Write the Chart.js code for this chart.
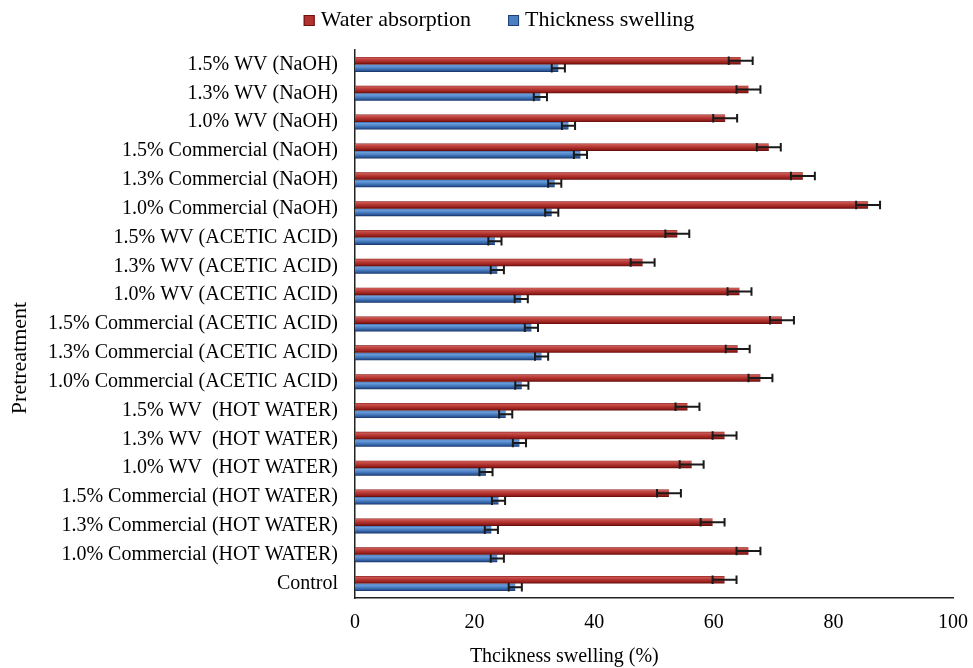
<!DOCTYPE html>
<html>
<head>
<meta charset="utf-8">
<title>Water absorption and thickness swelling by pretreatment</title>
<script src="https://cdn.jsdelivr.net/npm/chart.js@4.4.1/dist/chart.umd.min.js"></script>
<style>
  html, body { margin: 0; padding: 0; background: #ffffff; }
  #wrap { width: 973px; height: 668px; position: relative; }
</style>
</head>
<body>
<div id="wrap"><canvas id="chart" width="973" height="668"></canvas></div>
<script>
// Pretreatments, listed top to bottom
const categories = [
  "1.5% WV (NaOH)",
  "1.3% WV (NaOH)",
  "1.0% WV (NaOH)",
  "1.5% Commercial (NaOH)",
  "1.3% Commercial (NaOH)",
  "1.0% Commercial (NaOH)",
  "1.5% WV (ACETIC ACID)",
  "1.3% WV (ACETIC ACID)",
  "1.0% WV (ACETIC ACID)",
  "1.5% Commercial (ACETIC ACID)",
  "1.3% Commercial (ACETIC ACID)",
  "1.0% Commercial (ACETIC ACID)",
  "1.5% WV  (HOT WATER)",
  "1.3% WV  (HOT WATER)",
  "1.0% WV  (HOT WATER)",
  "1.5% Commercial (HOT WATER)",
  "1.3% Commercial (HOT WATER)",
  "1.0% Commercial (HOT WATER)",
  "Control"
];

// Water absorption (%)
const waterAbsorption = [
  64.5, 65.8, 61.9, 69.2, 74.9, 85.8,
  53.9, 48.1, 64.3, 71.4, 64.0, 67.8,
  55.6, 61.8, 56.3, 52.5, 59.8, 65.8,
  61.8
];

// Thickness swelling (%)
const thicknessSwelling = [
  34.0, 31.0, 35.7, 37.7, 33.4, 32.9,
  23.4, 23.8, 27.8, 29.5, 31.2, 27.9,
  25.2, 27.5, 21.9, 24.0, 22.8, 23.8,
  26.8
];

// Error bar half-widths
const waterAbsorptionErr = [
  2.0, 2.0, 2.0, 2.0, 2.0, 2.0,
  2.0, 2.0, 2.0, 2.0, 2.0, 2.0,
  2.0, 2.0, 2.0, 2.0, 2.0, 2.0,
  2.0
];
const thicknessSwellingErr = [
  1.1, 1.1, 1.1, 1.1, 1.1, 1.1,
  1.1, 1.1, 1.1, 1.1, 1.1, 1.1,
  1.1, 1.1, 1.1, 1.1, 1.1, 1.1,
  1.1
];

// Value axis ticks
const xTicks = [0, 20, 40, 60, 80, 100];

const seriesNames = ["Water absorption", "Thickness swelling"];
const xTitle = "Thcikness swelling (%)";
const yTitle = "Pretreatment";

const FONT = "'Liberation Serif', 'Times New Roman', serif";

// Vertical shading of each bar (top -> bottom)
const barShades = [
  [[0, "#7e1412"], [0.12, "#cc5a55"], [0.42, "#b93a36"], [0.78, "#951f1c"], [1, "#5e0a08"]],
  [[0, "#3a6bb0"], [0.18, "#6c9edc"], [0.5, "#4a7fc2"], [0.82, "#2b5596"], [1, "#143062"]]
];
const legendColors = [
  { fill: "#b0332f", stroke: "#6e1210" },
  { fill: "#4a7fc2", stroke: "#1f3f78" }
];
const errorSets = [waterAbsorptionErr, thicknessSwellingErr];

const shadedBars = {
  id: "shadedBars",
  beforeDatasetsDraw(chart) {
    const ctx = chart.ctx;
    chart.data.datasets.forEach((ds, di) => {
      const meta = chart.getDatasetMeta(di);
      meta.data.forEach(el => {
        const p = el.getProps(["y", "height"], true);
        const g = ctx.createLinearGradient(0, p.y - p.height / 2, 0, p.y + p.height / 2);
        barShades[di].forEach(([o, c]) => g.addColorStop(o, c));
        el.options = Object.assign({}, el.options, { backgroundColor: g });
      });
    });
  }
};

const errorBars = {
  id: "errorBars",
  afterDatasetsDraw(chart) {
    const ctx = chart.ctx;
    const xs = chart.scales.x;
    ctx.save();
    ctx.strokeStyle = "#1a1a1a";
    ctx.lineWidth = 2;
    chart.data.datasets.forEach((ds, di) => {
      const meta = chart.getDatasetMeta(di);
      meta.data.forEach((el, i) => {
        const v = ds.data[i];
        const e = errorSets[di][i];
        const p = el.getProps(["y", "height"], true);
        const x1 = xs.getPixelForValue(v - e);
        const x2 = xs.getPixelForValue(v + e);
        const h = p.height / 2 + 0.5;
        ctx.beginPath();
        ctx.moveTo(x1, p.y); ctx.lineTo(x2, p.y);
        ctx.moveTo(x1, p.y - h); ctx.lineTo(x1, p.y + h);
        ctx.moveTo(x2, p.y - h); ctx.lineTo(x2, p.y + h);
        ctx.stroke();
      });
    });
    ctx.restore();
  }
};

// Legend row and axis titles
const decorations = {
  id: "decorations",
  afterDraw(chart) {
    const ctx = chart.ctx;
    const xs = chart.scales.x;
    const ys = chart.scales.y;
    ctx.save();
    ctx.fillStyle = "#000";

    // legend
    ctx.font = "22px " + FONT;
    ctx.textBaseline = "middle";
    ctx.textAlign = "left";
    const box = 11, gapText = 6, gapItem = 37, ly = 20.5;
    const w = seriesNames.map(s => ctx.measureText(s).width);
    const total = box + gapText + w[0] + gapItem + box + gapText + w[1];
    let cx = 499 - total / 2;
    seriesNames.forEach((name, i) => {
      ctx.fillStyle = legendColors[i].fill;
      ctx.fillRect(cx, ly - box / 2, box, box);
      ctx.strokeStyle = legendColors[i].stroke;
      ctx.lineWidth = 1;
      ctx.strokeRect(cx + 0.5, ly - box / 2 + 0.5, box - 1, box - 1);
      ctx.fillStyle = "#000";
      ctx.fillText(name, cx + box + gapText, ly);
      cx += box + gapText + w[i] + gapItem;
    });

    // value axis title
    ctx.font = "20px " + FONT;
    ctx.textAlign = "center";
    ctx.fillText(xTitle, xs.left + 0.35 * (xs.right - xs.left), 657);

    // category axis title
    ctx.font = "22px " + FONT;
    ctx.translate(20, ys.top + 0.562 * (ys.bottom - ys.top));
    ctx.rotate(-Math.PI / 2);
    ctx.fillText(yTitle, 0, 0);
    ctx.restore();
  }
};

new Chart(document.getElementById("chart"), {
  type: "bar",
  data: {
    labels: categories,
    datasets: [
      { label: seriesNames[0], data: waterAbsorption, backgroundColor: "#b93a36", borderWidth: 0 },
      { label: seriesNames[1], data: thicknessSwelling, backgroundColor: "#4a7fc2", borderWidth: 0 }
    ]
  },
  options: {
    indexAxis: "y",
    responsive: false,
    animation: false,
    devicePixelRatio: 1,
    layout: { padding: { left: 40, right: 8, top: 50, bottom: 0 } },
    datasets: { bar: { barPercentage: 1.0, categoryPercentage: 0.52 } },
    plugins: {
      legend: { display: false },
      tooltip: { enabled: false },
      title: { display: false }
    },
    scales: {
      x: {
        type: "linear",
        min: xTicks[0],
        max: xTicks[xTicks.length - 1],
        afterBuildTicks(scale) { scale.ticks = xTicks.map(v => ({ value: v })); },
        ticks: { padding: 5, color: "#000", font: { family: FONT, size: 20 } },
        grid: { display: false },
        border: { display: true, color: "#222", width: 1.5 },
        afterFit(scale) { scale.height = 70; }
      },
      y: {
        type: "category",
        ticks: { padding: 9, autoSkip: false, color: "#000", font: { family: FONT, size: 20 } },
        grid: { display: false },
        border: { display: true, color: "#222", width: 1.5 },
        afterFit(scale) { scale.width = 315; }
      }
    }
  },
  plugins: [shadedBars, errorBars, decorations]
});
</script>
</body>
</html>
